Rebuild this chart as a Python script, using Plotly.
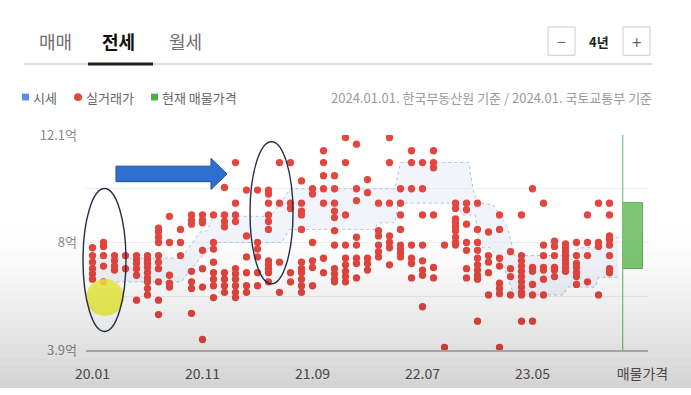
import plotly.graph_objects as go

# ---------------- data ----------------
month_ticks = [0, 10, 20, 30, 40, 50]
month_labels = ["20.01", "20.11", "21.09", "22.07", "23.05", "매물가격"]
price_ticks = [3.9, 5.95, 8.0, 10.05, 12.1]
price_labels = ["3.9억", "", "8억", "", "12.1억"]

# months since 2020.01 ; actual transaction prices (억)
deal_months = list(range(48))
deal_prices = [
    [7.8, 7.5, 7.25, 7.0, 6.8, 6.6],
    [8.0, 7.85, 7.5, 7.1, 6.5],
    [7.5, 7.3, 7.1, 6.95],
    [7.5, 7.0],
    [7.5, 7.35, 7.2, 7.0, 6.75, 5.8],
    [7.5, 7.35, 7.2, 7.05, 6.85, 6.65, 6.5, 6.25, 6.0],
    [8.55, 8.4, 8.2, 8.0, 7.5, 7.25, 7.0, 6.5, 5.8, 5.25],
    [9.0, 8.0, 6.75, 6.45, 6.3],
    [8.5, 8.0, 7.5],
    [9.05, 8.85, 8.7, 6.9, 6.5, 6.25, 5.3],
    [9.05, 8.85, 8.75, 7.7, 7.0, 6.3, 4.3],
    [9.05, 8.0, 7.75, 7.25, 6.85, 6.6, 6.35, 5.9],
    [10.1, 9.05, 8.8, 8.6, 6.85, 6.6, 6.35, 6.1],
    [11.05, 9.5, 9.05, 8.8, 7.0, 6.8, 6.6, 6.35, 6.1, 5.9],
    [10.0, 8.25, 7.45, 6.85, 6.35, 6.1],
    [10.0, 8.0, 7.75, 7.45, 6.85, 6.35],
    [10.0, 9.85, 9.5, 9.05, 8.8, 8.5, 7.3, 7.15, 7.0, 6.85, 6.5],
    [11.05, 9.5, 7.25, 6.1],
    [11.05, 9.5, 9.3, 6.85, 6.5],
    [10.35, 9.5, 9.2, 9.05, 8.5, 7.25, 7.0, 6.85, 6.6, 6.35, 6.1],
    [10.05, 9.85, 8.0, 7.3, 7.05, 6.35],
    [11.5, 11.05, 10.55, 10.05, 9.5, 7.4, 6.85],
    [10.55, 10.05, 9.5, 9.2, 8.95, 8.45, 7.9, 7.0, 6.8, 6.6, 6.5],
    [12.0, 11.05, 9.05, 7.9, 7.4, 7.15, 6.9, 6.7, 6.5],
    [11.75, 10.05, 9.6, 8.2, 7.9, 7.4, 7.2, 6.65],
    [10.4, 9.9, 7.4, 7.2, 6.95],
    [9.5, 8.45, 8.25, 7.9, 7.65, 7.45],
    [12.0, 11.05, 9.5, 8.25, 8.0, 7.8, 7.15],
    [10.05, 9.5, 9.05, 8.5, 7.9, 7.75, 7.6, 7.45],
    [11.5, 11.05, 10.05, 7.9, 7.4, 7.2, 6.65],
    [11.05, 10.05, 9.05, 7.9, 7.3, 6.95, 6.75, 5.55],
    [11.5, 11.05, 10.85, 9.05, 7.05, 6.65],
    [7.9, 4.0],
    [9.5, 9.3, 8.9, 8.75, 8.6, 8.45, 8.2, 8.0, 7.9],
    [9.5, 9.25, 8.7, 8.0, 7.7, 7.0, 6.65],
    [9.5, 8.5, 8.0, 7.7, 7.4, 7.15, 6.95, 6.75, 6.6, 5.0],
    [8.4, 7.5, 7.25, 6.85, 6.0],
    [9.05, 8.5, 7.4, 7.1, 6.45, 6.25, 6.05, 4.0],
    [7.65, 7.0, 6.7, 6.0],
    [9.05, 7.5, 7.3, 7.1, 6.9, 6.7, 6.5, 6.3, 6.1, 6.0, 5.0],
    [10.05, 7.05, 6.9, 6.4, 6.0, 5.0],
    [9.5, 7.9, 7.5, 7.05, 6.95, 6.6, 6.0],
    [8.05, 7.85, 7.5, 7.05, 6.95, 6.7],
    [7.95, 7.8, 7.65, 7.5, 7.35, 7.2, 7.05, 6.9],
    [8.0, 7.5, 7.2, 7.05, 6.85, 6.7, 6.4],
    [9.05, 8.0, 7.5, 6.5],
    [9.5, 8.0, 7.85, 6.0],
    [9.5, 9.05, 8.25, 8.1, 7.9, 7.5, 7.0, 6.85],
]

# market price (시세) band: upper / lower bounds
upper_m = [0, 8.1, 9.0, 9.8, 10.4, 11.0, 16.2, 17.0, 18.0, 27.5, 28.0, 34.2, 34.6, 35.0,
           36.4, 37.1, 37.7, 38.4, 43.6, 44.2, 47.0, 47.3, 47.8]
upper_v = [7.4, 7.4, 7.95, 8.4, 8.45, 9.0, 9.0, 9.45, 10.05, 10.05, 11.05, 11.05, 10.0, 9.5,
           9.45, 9.0, 8.6, 7.5, 7.5, 7.8, 7.8, 8.2, 8.2]
lower_m = [0, 8.1, 9.0, 9.8, 10.3, 11.0, 17.2, 17.9, 25.7, 25.9, 27.5, 27.8, 33.2, 33.6,
           34.8, 35.2, 36.1, 37.2, 38.3, 42.8, 43.2, 45.7, 46.0, 47.8]
lower_v = [6.5, 6.5, 7.0, 7.4, 7.6, 8.0, 8.0, 8.5, 8.5, 8.75, 8.75, 9.5, 9.5, 9.05,
           9.05, 7.8, 7.8, 7.3, 6.0, 6.0, 6.3, 6.3, 6.67, 6.67]

listing_line_month = 48.2
listing_bar_month = 49.1
listing_low = 7.0
listing_high = 9.5

# ---------------- figure ----------------
FONT = "Noto Sans CJK KR, Noto Sans, sans-serif"
W, H = 691, 395
L, R, T, B = 86, 648, 135, 356


def px(x):
    return (x - L) / (R - L)


def py(y):
    return (B - y) / (B - T)


xs, ys = [], []
for m, vals in zip(deal_months, deal_prices):
    for v in vals:
        xs.append(m)
        ys.append(v)

fig = go.Figure()

fig.add_trace(go.Scatter(
    x=lower_m, y=lower_v, mode="lines",
    line=dict(color="#aec3ea", width=1, dash="dot"),
    hoverinfo="skip", showlegend=False))
fig.add_trace(go.Scatter(
    x=upper_m, y=upper_v, mode="lines", fill="tonexty",
    fillcolor="rgba(225,233,247,0.45)",
    line=dict(color="#aec3ea", width=1, dash="dot"),
    hoverinfo="skip", showlegend=False))

fig.add_trace(go.Bar(
    x=[listing_bar_month], y=[listing_high - listing_low], base=[listing_low],
    width=1.8, marker=dict(color="#7ec673", line=dict(color="#62b257", width=1)),
    showlegend=False))

fig.add_trace(go.Scatter(
    x=xs, y=ys, mode="markers",
    marker=dict(color="#e2463e", size=7.3, line=dict(width=0)),
    showlegend=False))

shapes = []
# listing vertical line
shapes.append(dict(type="line", xref="x", yref="y", x0=listing_line_month, x1=listing_line_month,
                   y0=price_ticks[0], y1=price_ticks[-1], line=dict(color="#7cc27a", width=1.2)))

# header rules
shapes.append(dict(type="line", xref="paper", yref="paper", x0=px(24), x1=px(652), y0=py(62), y1=py(62),
                   line=dict(color="#dddddd", width=2)))
shapes.append(dict(type="line", xref="paper", yref="paper", x0=px(88), x1=px(153), y0=py(62), y1=py(62),
                   line=dict(color="#222222", width=3)))
# buttons
for bx0, bx1 in [(548, 575), (623, 650)]:
    shapes.append(dict(type="rect", xref="paper", yref="paper", x0=px(bx0), x1=px(bx1), y0=py(24), y1=py(53),
                       line=dict(color="#cccccc", width=1), fillcolor="white"))
# legend markers
shapes.append(dict(type="rect", xref="paper", yref="paper", x0=px(22), x1=px(29), y0=py(92.5), y1=py(99.5),
                   line=dict(width=0), fillcolor="#5b8fe6"))
shapes.append(dict(type="circle", xref="paper", yref="paper", x0=px(74), x1=px(82), y0=py(92), y1=py(100),
                   line=dict(width=0), fillcolor="#e2463e"))
shapes.append(dict(type="rect", xref="paper", yref="paper", x0=px(151), x1=px(158), y0=py(92.5), y1=py(99.5),
                   line=dict(width=0), fillcolor="#4cae4c"))

# video annotations: yellow highlight, ellipses, arrow
shapes.append(dict(type="circle", xref="paper", yref="paper", x0=px(86), x1=px(124), y0=py(283), y1=py(321),
                   line=dict(width=0), fillcolor="rgba(236,240,60,0.85)", layer="above"))
shapes.append(dict(type="circle", xref="paper", yref="paper", x0=px(83), x1=px(126), y0=py(190), y1=py(337),
                   line=dict(color="#27304a", width=1.4), layer="above"))
shapes.append(dict(type="circle", xref="paper", yref="paper", x0=px(250), x1=px(293), y0=py(142), y1=py(288),
                   line=dict(color="#27304a", width=1.4), layer="above"))
pts = [(116, 167), (211, 167), (211, 159), (227, 175), (211, 191), (211, 183), (116, 183)]
path = "M " + " L ".join(f"{px(a):.5f},{py(b):.5f}" for a, b in pts) + " Z"
shapes.append(dict(type="path", xref="paper", yref="paper", path=path,
                   fillcolor="#2f6fcf", line=dict(color="#1f4e9a", width=1), layer="above"))

# bottom gray overlay (video gradient)
n = 22
y_start, y_end = 225, 395
for i in range(n):
    y0 = y_start + (y_end - y_start) * i / n
    y1 = y_start + (y_end - y_start) * (i + 1) / n
    t = (i + 0.5) / n
    a = 0.175 * t ** 1.4
    shapes.append(dict(type="rect", xref="paper", yref="paper", x0=px(0), x1=px(W), y0=py(y1), y1=py(y0),
                       line=dict(width=0), fillcolor=f"rgba(0,0,0,{a:.4f})", layer="above"))

annotations = []


def txt(x, y, s, size, color, anchor="center", bold=False):
    annotations.append(dict(
        xref="paper", yref="paper", x=px(x), y=py(y), text=(f"<b>{s}</b>" if bold else s),
        showarrow=False, xanchor=anchor, yanchor="middle",
        font=dict(family=FONT, size=size, color=color)))


txt(55, 38, "매매", 18, "#6f6f6f")
txt(118, 38, "전세", 18, "#111111", bold=True)
txt(185, 38, "월세", 18, "#6f6f6f")
txt(561.5, 38.5, "−", 16, "#666666")
txt(599, 38.5, "4년", 13, "#222222", bold=True)
txt(636.5, 38.5, "+", 17, "#666666")
txt(31, 96, "시세", 13, "#666666", anchor="left")
txt(84, 96, "실거래가", 13, "#666666", anchor="left")
txt(160, 96, "현재 매물가격", 13, "#666666", anchor="left")
txt(654, 96, "2024.01.01. 한국부동산원 기준 / 2024.01. 국토교통부 기준", 13, "#9a9a9a", anchor="right")

fig.update_layout(
    width=W, height=H, autosize=False,
    margin=dict(l=L, r=W - R, t=T, b=H - B, pad=0),
    paper_bgcolor="white", plot_bgcolor="white",
    font=dict(family=FONT),
    showlegend=False,
    shapes=shapes, annotations=annotations,
    bargap=0,
)
fig.update_xaxes(
    range=[-0.59, 50.5], tickvals=month_ticks, ticktext=month_labels,
    showgrid=False, zeroline=False, showline=True, linecolor="#bbbbbb", linewidth=1.5,
    ticks="", ticklabelstandoff=10,
    tickfont=dict(family=FONT, size=14, color="#555555"), fixedrange=True)
fig.update_yaxes(
    range=[price_ticks[0], price_ticks[-1]], tickvals=price_ticks, ticktext=price_labels,
    showgrid=True, gridcolor="#eeeeee", gridwidth=1, zeroline=False, showline=False,
    ticks="", ticklabelstandoff=8,
    tickfont=dict(family=FONT, size=13, color="#8a8a8a"), fixedrange=True)

fig.write_html("out.html")
